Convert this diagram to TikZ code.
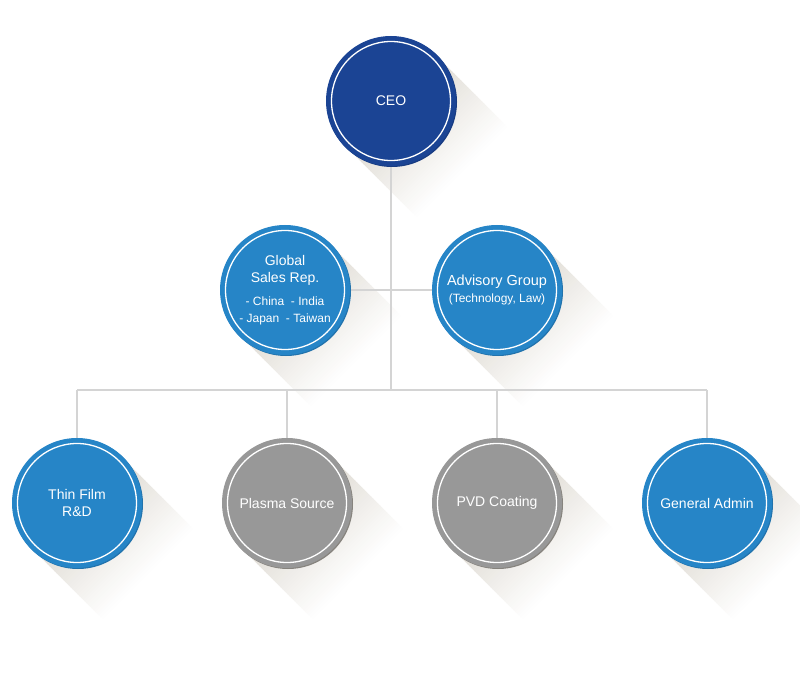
\documentclass[tikz,border=0pt]{standalone}
\usepackage{fontspec}
\setmainfont{Liberation Sans}
\definecolor{navy}{RGB}{27,68,148}
\definecolor{navyd}{RGB}{24,60,130}
\definecolor{bluec}{RGB}{38,133,199}
\definecolor{blued}{RGB}{34,115,172}
\definecolor{grayc}{RGB}{152,152,152}
\definecolor{grayd}{RGB}{135,132,126}
\definecolor{linec}{RGB}{212,212,212}
\definecolor{shcol}{RGB}{222,218,210}
\newcommand{\longshadow}[2]{%
  \begin{scope}[shift={(#1,#2)},rotate=-45]
    \foreach \i in {0,...,39}{%
      \pgfmathsetmacro{\pct}{100*(1-\i/40)}%
      \fill[shcol!\pct!white] (\i*2.5,-64) rectangle (\i*2.5+3,64);
    }
  \end{scope}}
\tikzset{
  orgcirc/.style={circle,minimum size=130pt,inner sep=0pt,text=white,align=center,font=\fontsize{14}{17}\selectfont},
  navynode/.style={orgcirc,fill=navy},
  bluenode/.style={orgcirc,fill=bluec},
  graynode/.style={orgcirc,fill=grayc},
  ring/.style={draw=white,line width=1.3pt},
  conn/.style={draw=linec,line width=1.6pt},
}
\begin{document}
\begin{tikzpicture}[x=1pt,y=-1pt]
\useasboundingbox (0,0) rectangle (800,700);
% shadows
\longshadow{391}{101}
\longshadow{285}{290}
\longshadow{497}{290}
\longshadow{77}{503}
\longshadow{287}{503}
\longshadow{497}{503}
\longshadow{707}{503}
% connector junctions
\coordinate (jb) at (391,390);
\coordinate (j1) at (77,390);
\coordinate (j2) at (287,390);
\coordinate (j3) at (497,390);
\coordinate (j4) at (707,390);
% node centres (for connectors drawn before nodes)
\coordinate (cceo) at (391,101);
\coordinate (cgs) at (285,290);
\coordinate (cadv) at (497,290);
\coordinate (ctf) at (77,503);
\coordinate (cps) at (287,503);
\coordinate (cpvd) at (497,503);
\coordinate (cga) at (707,503);
\draw[conn] (cceo) -- (jb);
\draw[conn] (cgs) -- (cadv);
\draw[conn] (j1) -- (j4);
\draw[conn] (j1) -- (ctf);
\draw[conn] (j2) -- (cps);
\draw[conn] (j3) -- (cpvd);
\draw[conn] (j4) -- (cga);
% dark rims
\fill[navyd] (392,102) circle (65pt);
\fill[blued] (286,291) circle (65pt);
\fill[blued] (498,291) circle (65pt);
\fill[blued] (78,504) circle (65pt);
\fill[grayd] (288,504) circle (65pt);
\fill[grayd] (498,504) circle (65pt);
\fill[blued] (708,504) circle (65pt);
% nodes
\node[navynode] (ceo) at (cceo) {CEO};
\node[bluenode] (gs) at (cgs) {Global\\Sales Rep.\\[6pt]{\fontsize{12}{17}\selectfont - China\ \ - India}\\{\fontsize{12}{17}\selectfont - Japan\ \ - Taiwan}};
\node[bluenode] (adv) at (cadv) {{\fontsize{14.5}{15}\selectfont Advisory Group}\\{\fontsize{12}{15}\selectfont (Technology, Law)}};
\node[bluenode] (tf) at (ctf) {Thin Film\\R\&D};
\node[graynode] (ps) at (cps) {Plasma Source};
\node[graynode] (pvd) at (cpvd) {PVD Coating};
\node[bluenode] (ga) at (cga) {General Admin};
% white rings
\foreach \n in {ceo,gs,adv,tf,ps,pvd,ga}{\draw[ring] (\n.center) circle (59.5pt);}
\end{tikzpicture}
\end{document}
